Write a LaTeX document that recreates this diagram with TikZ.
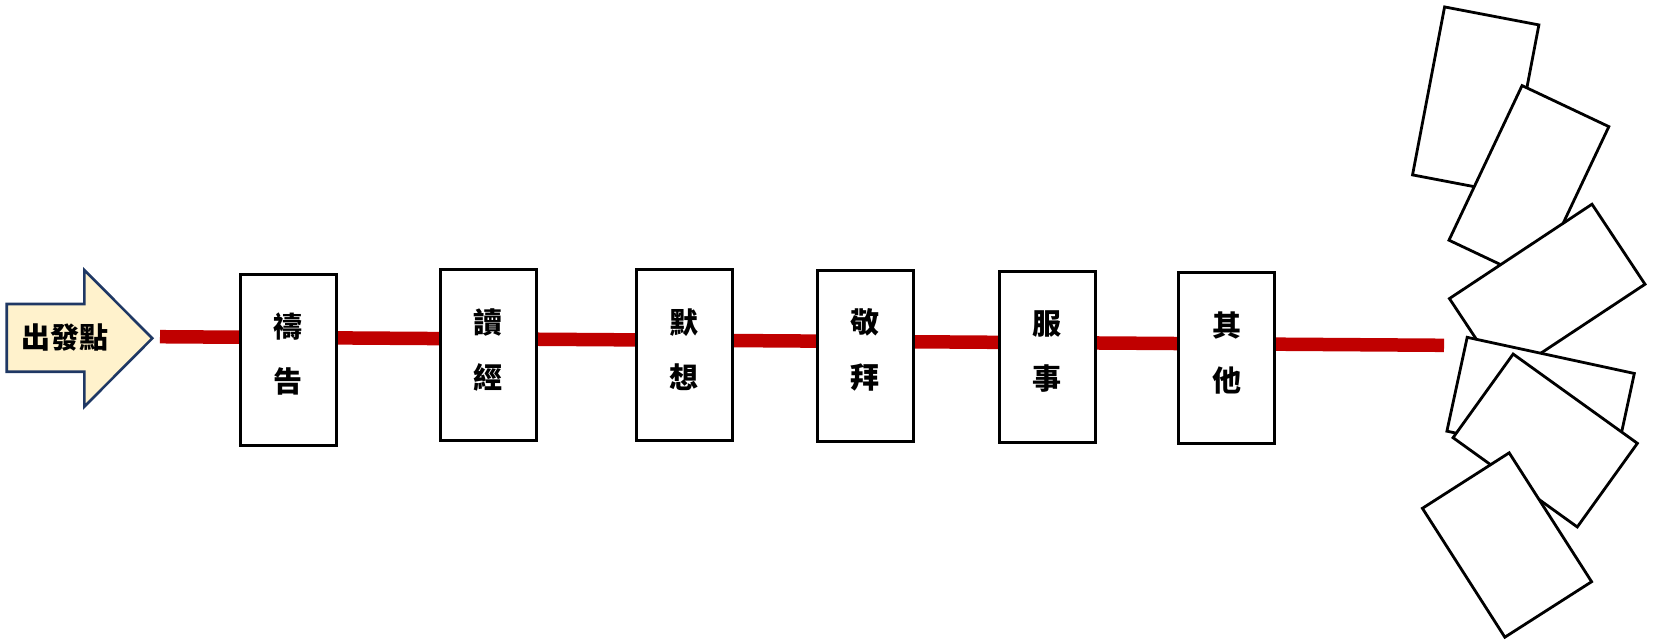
\documentclass[tikz,border=0pt]{standalone}
\usepackage{fontspec}
\newfontfamily\cjk{Noto Sans CJK TC}
\usepackage{tikz}
\usetikzlibrary{positioning, calc}
\usepackage{xcolor}
\definecolor{pathred}{HTML}{C00000}
\definecolor{startfill}{HTML}{FFF2CC}
\definecolor{startdraw}{HTML}{1F3864}

\tikzset{
  stagebox/.style={draw=black, fill=white, line width=3pt, minimum width=95.7pt, minimum height=171pt, inner sep=0pt, align=center, text height=70pt, text depth=4pt, font=\cjk\bfseries\fontsize{29}{55}\selectfont},
  card/.style={draw=black, fill=white, line width=2.8pt, minimum width=96pt, minimum height=171pt, inner sep=0pt},
  smallcard/.style={card, minimum width=103pt, minimum height=153pt}
}

\begin{document}
\begin{tikzpicture}[x=1pt, y=-1pt]
      \useasboundingbox (0, 0) rectangle (1653, 641);

      \draw[startdraw, fill=startfill, line width=2.6pt, line join=miter] (6.7, 304) -- (84.3, 304) -- (84.3, 270) -- (152.3, 338.3) -- (84.3, 406.7) -- (84.3, 371.7) -- (6.7, 371.7) -- cycle;
      \node[font=\cjk\bfseries\fontsize{29}{30}\selectfont, inner sep=0pt] (start) at (64.9, 337.5) {出發點};

      \coordinate (pathstart) at (160, 336.7);
      \coordinate (pathend) at (1444, 345.3);
      \draw[pathred, line width=13.5pt] (pathstart) -- (pathend);

      \node[stagebox] (pray) at (288.3, 359.7) {禱\\告};
      \node[stagebox] (read) at (488.3, 355.3) {讀\\經};
      \node[stagebox] (meditate) at (684.3, 355.3) {默\\想};
      \node[stagebox] (worship) at (865.3, 355.8) {敬\\拜};
      \node[stagebox] (serve) at (1047.2, 356.8) {服\\事};
      \node[stagebox] (other) at (1226.5, 358.3) {其\\他};

      % scattered cards at the end
      \node[card, rotate=-10.8] (card1) at (1475.7, 99.9) {};
      \node[card, rotate=-25.3] (card2) at (1528.9, 183.4) {};
      \node[card, rotate=-56.5] (card3) at (1547.2, 291.4) {};
      \node[card, rotate=77.8] (card4) at (1540.6, 402.3) {};
      \node[smallcard, rotate=54.3] (card5) at (1545.2, 440.5) {};
      \node[smallcard, rotate=32.6] (card6) at (1507, 545) {};
    \end{tikzpicture}
\end{document}
